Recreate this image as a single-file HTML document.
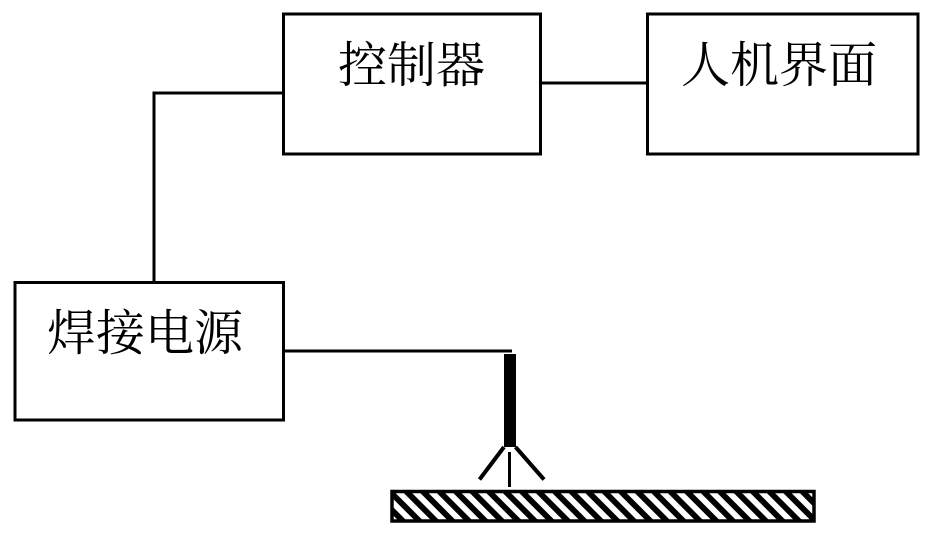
<!DOCTYPE html>
<html lang="zh"><head><meta charset="utf-8">
<style>html,body{margin:0;padding:0;background:#fff;width:931px;height:536px;overflow:hidden}svg{display:block}text{font-family:"Liberation Serif","Noto Serif CJK SC",serif;font-size:49px;fill:#000}</style>
</head><body>
<svg width="931" height="536" viewBox="0 0 931 536" xmlns="http://www.w3.org/2000/svg">
<defs><pattern id="h" width="16.5" height="16.5" patternUnits="userSpaceOnUse" patternTransform="translate(396 493.5)">
<rect width="16.5" height="16.5" fill="#000"/>
<path d="M0 0L8.250 0L24.750 16.500L16.500 16.500ZM-16.500 0L-8.250 0L8.250 16.500L0 16.500Z" fill="#fff"/>
</pattern></defs>
<g fill="none" stroke="#000" stroke-width="3">
<rect x="283.5" y="14" width="257" height="140"/>
<rect x="647.5" y="14" width="270.5" height="140"/>
<rect x="15" y="282.5" width="268.5" height="137.5"/>
<path d="M154 282V93H283M541 83H647M285 351H512"/>
</g>
<rect x="504" y="354" width="12" height="93" fill="#000"/>
<path d="M504 447L479.500 479.500M515.500 447L544 479.500" stroke="#000" stroke-width="4" fill="none"/>
<path d="M509.500 452V487" stroke="#000" stroke-width="3" fill="none"/>
<rect x="392" y="491.500" width="422" height="29.500" fill="url(#h)" stroke="#000" stroke-width="3.500"/>
<text x="338" y="82">控制器</text>
<text x="681" y="82">人机界面</text>
<text x="47" y="350">焊接电源</text>
</svg>
</body></html>
